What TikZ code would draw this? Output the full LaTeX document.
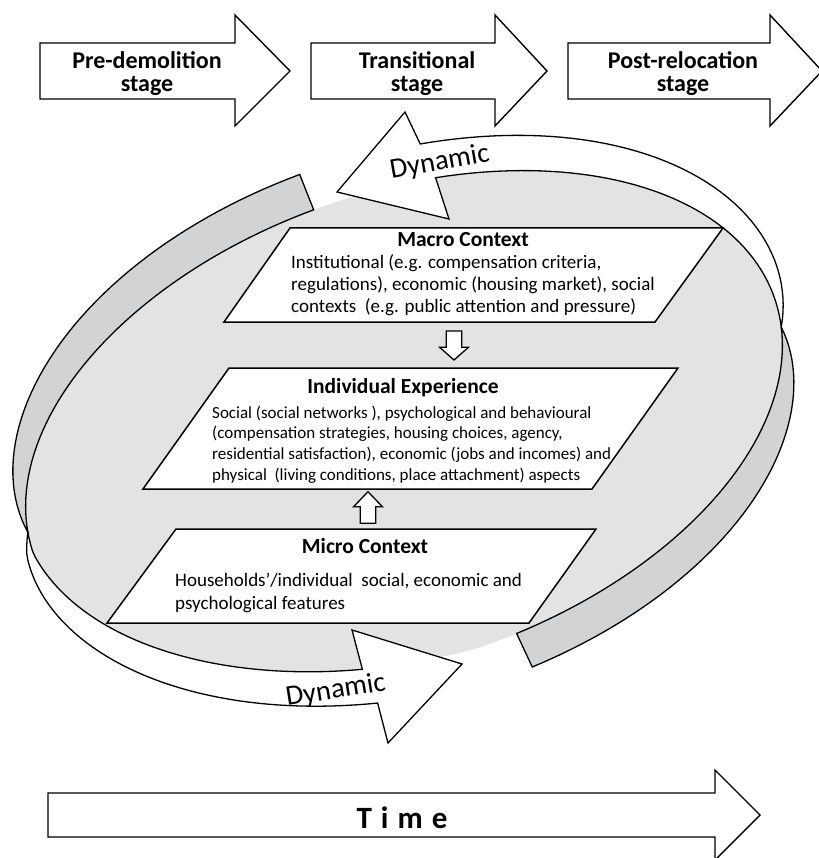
\documentclass[tikz,border=0pt]{standalone}
\usepackage{fontspec}
\setmainfont{Carlito}
\definecolor{texgray}{RGB}{227,227,227}
\definecolor{bandgray}{RGB}{210,211,213}
\pgfmathdeclarefunction{escale}{1}{\pgfmathparse{1-0.09*max(0,-sin(#1))*max(0,-cos(#1))}}
\pgfmathdeclarefunction{elx}{2}{\pgfmathparse{404+escale(#1)*((392+(#2))*cos(#1)*0.94552-(234+(#2))*sin(#1)*0.32557)}}
\pgfmathdeclarefunction{ely}{2}{\pgfmathparse{426-escale(#1)*((392+(#2))*cos(#1)*0.32557+(234+(#2))*sin(#1)*0.94552)}}
\pgfmathdeclarefunction{etaper}{1}{\pgfmathparse{1-(1-(#1))*(1-(#1))*(1-(#1))}}
\begin{document}
\begin{tikzpicture}[x=1pt,y=-1pt,
  stagearrow/.style={draw=black, line width=1.4pt, fill=white, line join=miter},
  whiteband/.style={draw=black, line width=1.3pt, fill=white, line join=miter},
  grayband/.style={draw=black, line width=1.3pt, fill=bandgray, line join=miter},
  para/.style={draw=black, line width=1.5pt, fill=white, line join=miter},
  hollow/.style={draw=black, line width=1.3pt, fill=white, line join=miter},
  txt/.style={inner sep=0pt}]
\useasboundingbox (0,0) rectangle (818,858);

% textured background ellipse
\fill[texgray] plot[domain=0:360,samples=160,variable=\vt] ({elx(\vt,0)},{ely(\vt,0)}) -- cycle;

% back (gray) parts of the two curved arrows
\draw[grayband] plot[domain=92.2:174.6,samples=50,variable=\vt] ({elx(\vt,0)},{ely(\vt,0)})
  -- plot[domain=0:1,samples=50,variable=\vs] ({elx(174.6-82.4*\vs,38*etaper(\vs))},{ely(174.6-82.4*\vs,38*etaper(\vs))}) -- cycle;
\draw[grayband] plot[domain=-84.3:-7.2,samples=50,variable=\vt] ({elx(\vt,0)},{ely(\vt,0)})
  -- plot[domain=0:1,samples=50,variable=\vs] ({elx(-7.2-77.1*\vs,37*etaper(\vs))},{ely(-7.2-77.1*\vs,37*etaper(\vs))}) -- cycle;

% front (white) parts with heads
\draw[whiteband] plot[domain=174.6:251.9,samples=50,variable=\vt] ({elx(\vt,0)},{ely(\vt,0)})
  -- (352,630) -- (462,664) -- (388,743)
  -- plot[domain=0:1,samples=50,variable=\vs] ({elx(254-79.4*\vs,36*etaper(1-\vs))},{ely(254-79.4*\vs,36*etaper(1-\vs))}) -- cycle;
\draw[whiteband] plot[domain=-7.2:73.6,samples=50,variable=\vt] ({elx(\vt,0)},{ely(\vt,0)})
  -- (449,219) -- (337,192) -- (405,112)
  -- plot[domain=0:1,samples=50,variable=\vs] ({elx(75.5-82.7*\vs,36*etaper(1-\vs))},{ely(75.5-82.7*\vs,36*etaper(1-\vs))}) -- cycle;

\node[txt, anchor=base, rotate=10, font=\fontsize{28.5}{30}\selectfont] (dyntop) at (441,170) {Dynamic};
\node[txt, anchor=base, rotate=9, font=\fontsize{28.5}{30}\selectfont] (dynbot) at (337,698) {Dynamic};

% stage arrows
\draw[stagearrow] (40,43) -- (235,43) -- (235,15) -- (290,71) -- (235,126) -- (235,99) -- (40,99) -- cycle;
\draw[stagearrow] (311,43) -- (495,43) -- (495,15) -- (547,71) -- (495,126) -- (495,99) -- (311,99) -- cycle;
\draw[stagearrow] (568,43) -- (770,43) -- (770,15) -- (822,71) -- (770,126) -- (770,99) -- (568,99) -- cycle;
\node[txt, anchor=base] (pre) at (147,68.3) {\parbox[t]{200pt}{\centering\bfseries\fontsize{24}{23.5}\selectfont Pre-demolition\\stage}};
\node[txt, anchor=base] (trans) at (417,68.3) {\parbox[t]{200pt}{\centering\bfseries\fontsize{24}{23.5}\selectfont Transitional\\stage}};
\node[txt, anchor=base] (post) at (683,68.3) {\parbox[t]{200pt}{\centering\bfseries\fontsize{24}{23.5}\selectfont Post-relocation\\stage}};

% parallelograms
\draw[para] (290,228) -- (723,228) -- (655,322) -- (224,322) -- cycle;
\draw[para] (229,368) -- (678,368) -- (592,489) -- (143,489) -- cycle;
\draw[para] (176,529) -- (596,529) -- (529,623) -- (107,623) -- cycle;

\node[txt, anchor=base, font=\bfseries\fontsize{21.5}{24}\selectfont] (macro) at (463,246.7) {Macro Context};
\node[txt, anchor=base west] (macrobody) at (291,268.7) {\parbox[t]{420pt}{\raggedright\fontsize{19}{22}\selectfont Institutional (e.g. compensation criteria,\\regulations), economic (housing market), social\\contexts\ \ (e.g. public attention and pressure)}};

\node[txt, anchor=base, font=\bfseries\fontsize{21.5}{24}\selectfont] (indiv) at (403,393.3) {Individual Experience};
\node[txt, anchor=base west] (indivbody) at (212,418.3) {\parbox[t]{420pt}{\raggedright\fontsize{17}{20.6}\selectfont Social (social networks ), psychological and behavioural\\(compensation strategies, housing choices, agency,\\residential satisfaction), economic (jobs and incomes) and\\physical\ \ (living conditions, place attachment) aspects}};

\node[txt, anchor=base, font=\bfseries\fontsize{21.5}{24}\selectfont] (micro) at (365,553) {Micro Context};
\node[txt, anchor=base west] (microbody) at (175,586) {\parbox[t]{420pt}{\raggedright\fontsize{19}{23}\selectfont Households’/individual\ \ social, economic and\\psychological features}};

% hollow block arrows between the levels
\coordinate (dnarrow) at (454,331);
\draw[hollow] (dnarrow) ++(-7.7,0) -- ++(15.4,0) -- ++(0,16.3) -- ++(6.7,0) -- ++(-14.4,12.7) -- ++(-14.4,-12.7) -- ++(6.7,0) -- cycle;
\coordinate (uparrow) at (368,523.3);
\draw[hollow] (uparrow) ++(-7.7,0) -- ++(15.4,0) -- ++(0,-16.6) -- ++(6.7,0) -- ++(-14.4,-15) -- ++(-14.4,15) -- ++(6.7,0) -- cycle;

% time arrow
\draw[stagearrow] (48,793) -- (715,793) -- (715,770) -- (760,815) -- (715,860) -- (715,837) -- (48,837) -- cycle;
\node[txt, anchor=base, font=\bfseries\fontsize{31}{31}\selectfont] (time) at (402,828.3) {T\hspace{9pt}i\hspace{9pt}m\hspace{9pt}e};
\end{tikzpicture}
\end{document}
